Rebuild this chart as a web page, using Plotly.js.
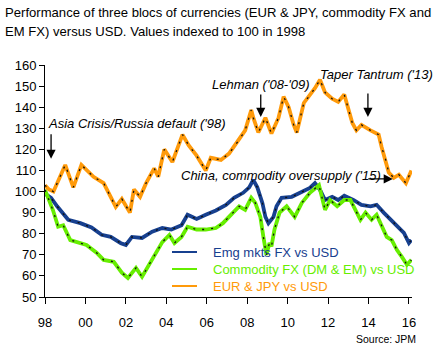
<!DOCTYPE html>
<html>
<head>
<meta charset="utf-8">
<script src="https://cdn.plot.ly/plotly-3.0.1.min.js"></script>
<style>html,body{margin:0;padding:0;background:#fff;}#chart{width:438px;height:346px;}</style>
</head>
<body>
<div id="chart"></div>
<script>
// ---- Data ----
const emYears = [1998.0,1998.3,1998.6,1999.15,1999.75,2000.3,2000.8,2001.25,2001.75,2002.0,2002.3,2002.8,2003.3,2003.8,2004.25,2004.75,2005.05,2005.5,2005.95,2006.45,2006.95,2007.35,2007.8,2008.1,2008.3,2008.5,2008.75,2008.9,2009.05,2009.3,2009.45,2009.7,2010.2,2010.7,2011.1,2011.35,2011.6,2011.85,2012.2,2012.5,2012.8,2013.25,2013.65,2014.1,2014.4,2014.75,2015.1,2015.4,2015.75,2016.0,2016.12];
const emValues = [99,97,93,86.6,85,83,79.5,78.5,75.5,74.7,78.5,78,81,82.7,82,84,89,87,89,91,93.7,97,99.4,102,105.5,102,94.6,88,85,88,93,97,97.5,100,101.7,104,100.8,96,97.5,96,98,96,93.7,93,93.7,90,86.6,83.3,80.4,75.6,77];

const comYears = [1998.0,1998.4,1998.65,1998.9,1999.25,1999.65,2000.05,2000.55,2000.9,2001.4,2001.8,2002.1,2002.5,2002.8,2003.2,2003.5,2003.8,2004.15,2004.4,2004.75,2005.05,2005.5,2005.95,2006.45,2006.8,2007.3,2007.6,2007.9,2008.2,2008.4,2008.65,2008.8,2008.95,2009.1,2009.2,2009.35,2009.6,2009.95,2010.35,2010.7,2011.1,2011.55,2011.7,2011.85,2012.1,2012.45,2012.8,2013.1,2013.35,2013.6,2013.85,2014.15,2014.4,2014.65,2014.9,2015.15,2015.4,2015.65,2015.9,2016.12];
const comValues = [100.8,91,83.3,84,77,76,74.7,71,67.6,66.7,61.5,59,63.8,59.6,66,71,76,79.4,75.6,78.5,83.3,82,82,82.7,85,90,93,91.3,97,94.6,88,78.5,70,75.6,74,82,90,93,88,94.6,99.4,103,97.5,91.3,96,93,96,96,91.3,86.6,90,86.6,89,83.3,78.5,77,72.4,69,65.3,67.6];

const eurYears = [1998.0,1998.2,1998.42,1999.0,1999.4,1999.8,2000.4,2000.9,2001.5,2001.8,2002.2,2002.4,2002.7,2003.0,2003.4,2003.6,2003.9,2004.3,2004.8,2005.1,2005.5,2005.95,2006.2,2006.7,2007.1,2007.6,2007.9,2008.2,2008.3,2008.55,2008.9,2009.2,2009.55,2009.8,2010.05,2010.3,2010.45,2010.8,2011.05,2011.35,2011.6,2011.85,2012.2,2012.5,2012.8,2013.0,2013.2,2013.4,2013.65,2014.1,2014.5,2014.65,2014.85,2015.0,2015.25,2015.5,2015.85,2016.12];
const eurValues = [103,101,100,112.6,102,112.6,107,104,92.7,96.5,90,101,97.5,104,111,107,120,114,127,122,117,110,116,115,118,124.5,129,138.7,135,128,135,127.5,135,145,140,131.6,128,142,145,149,153,147,144,142.5,146,138.7,132.5,129,131.6,129,127,121,115,109,106.5,108,104,110];

const seriesNames = ["Emg mkts FX vs USD", "Commodity FX (DM & EM) vs USD", "EUR & JPY vs USD"];
const seriesColors = ["#17408f", "#66ee00", "#ff9a0a"];
const tickYears = [1998,2000,2002,2004,2006,2008,2010,2012,2014,2016];
const tickLabels = ["98","00","02","04","06","08","10","12","14","16"];
const titleLines = ["Performance of three blocs of currencies (EUR &amp; JPY, commodity FX and",
                    "EM FX) versus USD. Values indexed to 100 in 1998"];

// ---- Traces ----
const xs = [emYears, comYears, eurYears];
const ys = [emValues, comValues, eurValues];
const traces = [];
for (let i = 0; i < 3; i++) {
  traces.push({
    x: xs[i], y: ys[i], type: "scatter", mode: "lines",
    name: seriesNames[i], showlegend: false,
    line: {color: seriesColors[i], width: 3.8},
    hoverinfo: "skip"
  });
  traces.push({
    x: xs[i], y: ys[i], type: "scatter", mode: "lines",
    showlegend: false,
    line: {color: "#111", width: 1.3, dash: "2px,7px"},
    hoverinfo: "skip"
  });
}

const F = "Liberation Sans, Arial, sans-serif";
const annFont = {family: F, size: 13, color: "#000"};
// plot area in pixels: x 45..412, y 65..297
const PL = 45, PW = 367, PT = 65, PH = 232;
const px = v => (v - PL) / PW;
const py = v => (PT + PH - v) / PH;

function arrow(x, y, ax, ay) {
  return {x: x, y: y, xref: "x", yref: "y", text: "", showarrow: true,
          ax: ax, ay: ay, arrowhead: 2, arrowsize: 1.4, arrowwidth: 1.3, arrowcolor: "#000"};
}
function label(txt, x, y, anchor, font) {
  return {x: px(x), y: py(y), xref: "paper", yref: "paper", text: txt,
          showarrow: false, xanchor: anchor || "left", yanchor: "middle", font: font || annFont};
}

const annotations = [
  label(titleLines[0], 3, 12, "left", {family: F, size: 13.1, color: "#000"}),
  label(titleLines[1], 3, 31, "left", {family: F, size: 13.1, color: "#000"}),
  label("<i>Asia Crisis/Russia default ('98)</i>", 46, 123),
  label("<i>Lehman ('08-'09)</i>", 210, 85),
  label("<i>Taper Tantrum ('13)</i>", 318, 74),
  label("<i>China, commodity oversupply ('15)</i>", 179, 175),
  label("Source: JPM", 418, 339, "right", {family: F, size: 10.5, color: "#000"}),
  arrow(1998.3, 115.5, 0, -26),
  arrow(2008.67, 135.4, 0, -24),
  arrow(2013.97, 135.4, 0, -25),
  arrow(2015.2, 106, -26, 0)
];
// manual legend (line samples + coloured text)
const legendY = [252, 269, 286];
const shapes = [];
for (let i = 0; i < 3; i++) {
  shapes.push({type: "line", xref: "paper", yref: "paper",
               x0: px(172), x1: px(197), y0: py(legendY[i]), y1: py(legendY[i]),
               line: {color: seriesColors[i], width: 2}});
  annotations.push(label(seriesNames[i].replace("&", "&amp;"), 211, legendY[i], "left",
                         {family: F, size: 13, color: seriesColors[i]}));
}

const layout = {
  width: 438, height: 346,
  margin: {l: PL, r: 438 - PL - PW, t: PT, b: 346 - PT - PH},
  paper_bgcolor: "#fff", plot_bgcolor: "#fff",
  xaxis: {
    range: [1998, 2016.15], tickvals: tickYears, ticktext: tickLabels,
    ticks: "outside", ticklen: 6, tickcolor: "#000", tickwidth: 1,
    showline: true, linecolor: "#000", linewidth: 1,
    showgrid: false, zeroline: false, ticklabelstandoff: 7,
    tickfont: {family: F, size: 13, color: "#000"}
  },
  yaxis: {
    range: [50, 160], dtick: 10, tick0: 50,
    ticks: "outside", ticklen: 5, tickcolor: "#000", tickwidth: 1,
    showline: true, linecolor: "#000", linewidth: 1,
    showgrid: false, zeroline: false,
    tickfont: {family: F, size: 13, color: "#000"}
  },
  showlegend: false,
  annotations: annotations,
  shapes: shapes
};

Plotly.newPlot("chart", traces, layout, {staticPlot: true, displayModeBar: false});
</script>
</body>
</html>
